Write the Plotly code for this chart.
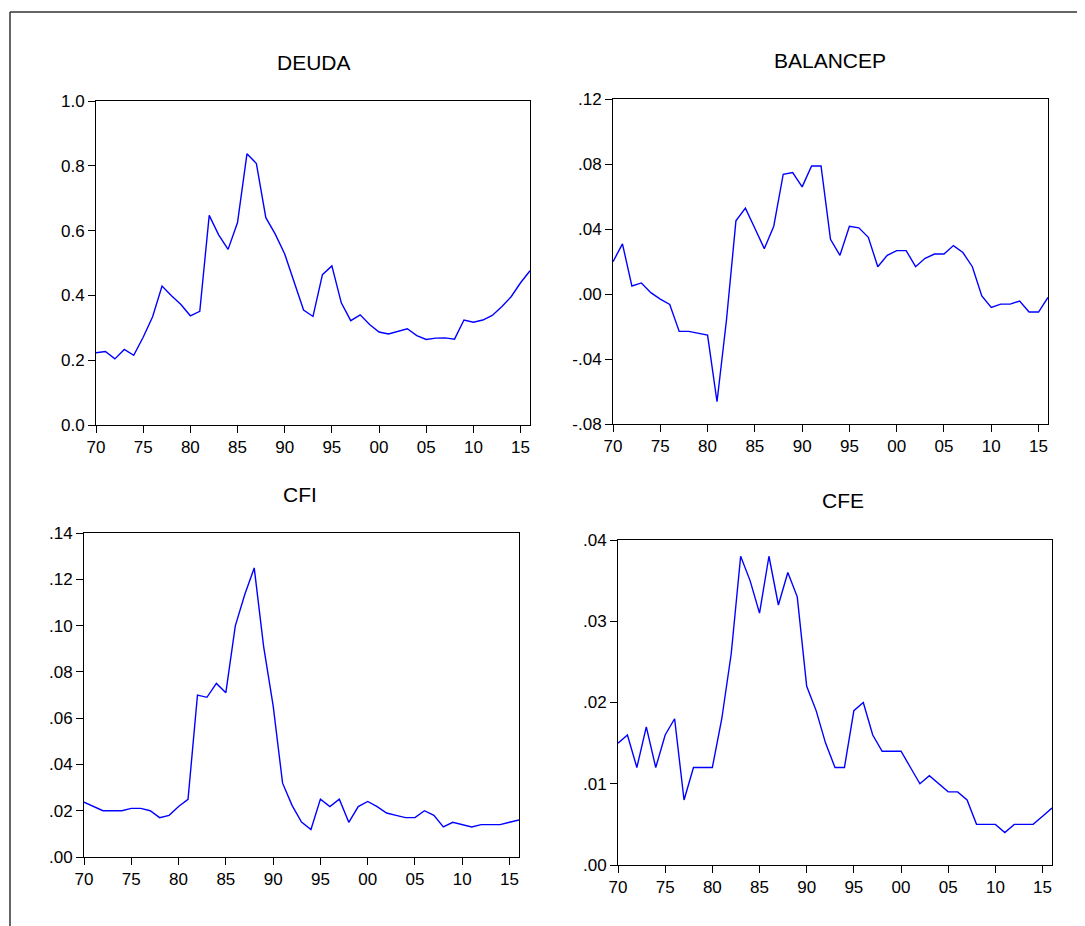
import plotly.graph_objects as go

years = list(range(1970, 2017))

deuda = [0.223, 0.227, 0.204, 0.233, 0.215, 0.271, 0.334, 0.429, 0.399, 0.372,
         0.337, 0.351, 0.647, 0.587, 0.542, 0.625, 0.837, 0.807, 0.640, 0.589,
         0.528, 0.441, 0.355, 0.335, 0.464, 0.491, 0.377, 0.322, 0.340, 0.310,
         0.287, 0.281, 0.290, 0.297, 0.276, 0.264, 0.268, 0.269, 0.265, 0.324,
         0.317, 0.324, 0.338, 0.365, 0.396, 0.439, 0.476]

balancep = [0.0199, 0.0308, 0.0049, 0.0068, 0.0008, -0.0031, -0.0064, -0.0230, -0.0230, -0.0240,
            -0.0253, -0.0663, -0.0160, 0.0450, 0.0528, 0.0405, 0.0279, 0.0417, 0.0737, 0.0747,
            0.0659, 0.0788, 0.0788, 0.0337, 0.0238, 0.0417, 0.0407, 0.0349, 0.0168, 0.0238,
            0.0267, 0.0267, 0.0168, 0.0220, 0.0246, 0.0246, 0.0298, 0.0255, 0.0168, -0.0012,
            -0.0082, -0.0062, -0.0062, -0.0043, -0.0111, -0.0111, -0.0021]

cfi = [0.0237, 0.0218, 0.0200, 0.0200, 0.0200, 0.0210, 0.0210, 0.0200, 0.0170, 0.0180,
       0.0218, 0.0249, 0.0700, 0.0690, 0.0750, 0.0710, 0.0999, 0.1134, 0.1249, 0.0908,
       0.0654, 0.0319, 0.0223, 0.0151, 0.0119, 0.0250, 0.0218, 0.0250, 0.0150, 0.0218,
       0.0240, 0.0218, 0.0190, 0.0180, 0.0170, 0.0170, 0.0200, 0.0180, 0.0130, 0.0150,
       0.0140, 0.0130, 0.0140, 0.0140, 0.0140, 0.0150, 0.0160]

cfe = [0.015, 0.016, 0.012, 0.017, 0.012, 0.016, 0.018, 0.008, 0.012, 0.012,
       0.012, 0.018, 0.026, 0.038, 0.035, 0.031, 0.038, 0.032, 0.036, 0.033,
       0.022, 0.019, 0.015, 0.012, 0.012, 0.019, 0.020, 0.016, 0.014, 0.014,
       0.014, 0.012, 0.010, 0.011, 0.010, 0.009, 0.009, 0.008, 0.005, 0.005,
       0.005, 0.004, 0.005, 0.005, 0.005, 0.006, 0.007]

titles = ["DEUDA", "BALANCEP", "CFI", "CFE"]
series = [deuda, balancep, cfi, cfe]

x_tickvals = list(range(1970, 2016, 5))
x_ticktext = ["70", "75", "80", "85", "90", "95", "00", "05", "10", "15"]

y_ticks = [
    ([0.0, 0.2, 0.4, 0.6, 0.8, 1.0], ["0.0", "0.2", "0.4", "0.6", "0.8", "1.0"], [0, 1.0]),
    ([-0.08, -0.04, 0.0, 0.04, 0.08, 0.12], ["-.08", "-.04", ".00", ".04", ".08", ".12"], [-0.08, 0.12]),
    ([0.0, 0.02, 0.04, 0.06, 0.08, 0.10, 0.12, 0.14], [".00", ".02", ".04", ".06", ".08", ".10", ".12", ".14"], [0, 0.14]),
    ([0.0, 0.01, 0.02, 0.03, 0.04], [".00", ".01", ".02", ".03", ".04"], [0, 0.04]),
]

W, H = 1085, 926
OFF = 8  # page body margin
# pixel boxes (screen coords): left, right, top, bottom
boxes = [(96, 530, 101, 425), (613, 1048, 99, 424), (84, 519, 533, 857), (618, 1052, 540, 865)]
title_pos = [(314, 62), (830, 60), (300, 494), (843, 500)]


def px(x):
    return (x - OFF) / W


def py(y):
    return 1 - (y - OFF) / H


FONT = "Arial, Liberation Sans, sans-serif"

fig = go.Figure()
layout = dict(
    template="none",
    width=W, height=H, autosize=False,
    margin=dict(l=0, r=0, t=0, b=0, pad=0),
    paper_bgcolor="white", plot_bgcolor="white",
    showlegend=False,
    font=dict(family=FONT, size=17, color="black"),
    annotations=[], shapes=[],
)

for i, (name, vals) in enumerate(zip(titles, series)):
    n = "" if i == 0 else str(i + 1)
    fig.add_trace(go.Scatter(x=years, y=vals, mode="lines",
                             line=dict(color="#0000ff", width=1.4),
                             xaxis="x" + n, yaxis="y" + n, name=name))
    l, r, t, b = boxes[i]
    tv, tt, rng = y_ticks[i]
    layout["xaxis" + n] = dict(
        domain=[px(l), px(r)], anchor="y" + n, range=[1970, 2016],
        tickvals=x_tickvals, ticktext=x_ticktext, automargin=False,
        showline=True, linecolor="black", linewidth=1, mirror=True,
        ticks="outside", ticklen=7, tickcolor="black", tickwidth=1,
        showgrid=False, zeroline=False,
        tickfont=dict(family=FONT, size=17, color="black"),
    )
    layout["yaxis" + n] = dict(
        domain=[py(b), py(t)], anchor="x" + n, range=rng,
        tickvals=tv, ticktext=tt, automargin=False,
        showline=True, linecolor="black", linewidth=1, mirror=True,
        ticks="outside", ticklen=7, tickcolor="black", tickwidth=1,
        showgrid=False, zeroline=False,
        tickfont=dict(family=FONT, size=17, color="black"),
    )
    tx, ty = title_pos[i]
    layout["annotations"].append(dict(
        text=name, x=px(tx), y=py(ty), xref="paper", yref="paper",
        xanchor="center", yanchor="middle", showarrow=False,
        font=dict(family=FONT, size=21, color="black"),
    ))

# outer frame (top and left edges visible)
layout["shapes"].append(dict(type="line", xref="paper", yref="paper",
                             x0=px(10), x1=1.0, y0=py(12), y1=py(12),
                             line=dict(color="#333333", width=1.5)))
layout["shapes"].append(dict(type="line", xref="paper", yref="paper",
                             x0=px(10), x1=px(10), y0=py(12), y1=0,
                             line=dict(color="#333333", width=1.5)))

fig.update_layout(**layout)
fig.write_html("out.html")
